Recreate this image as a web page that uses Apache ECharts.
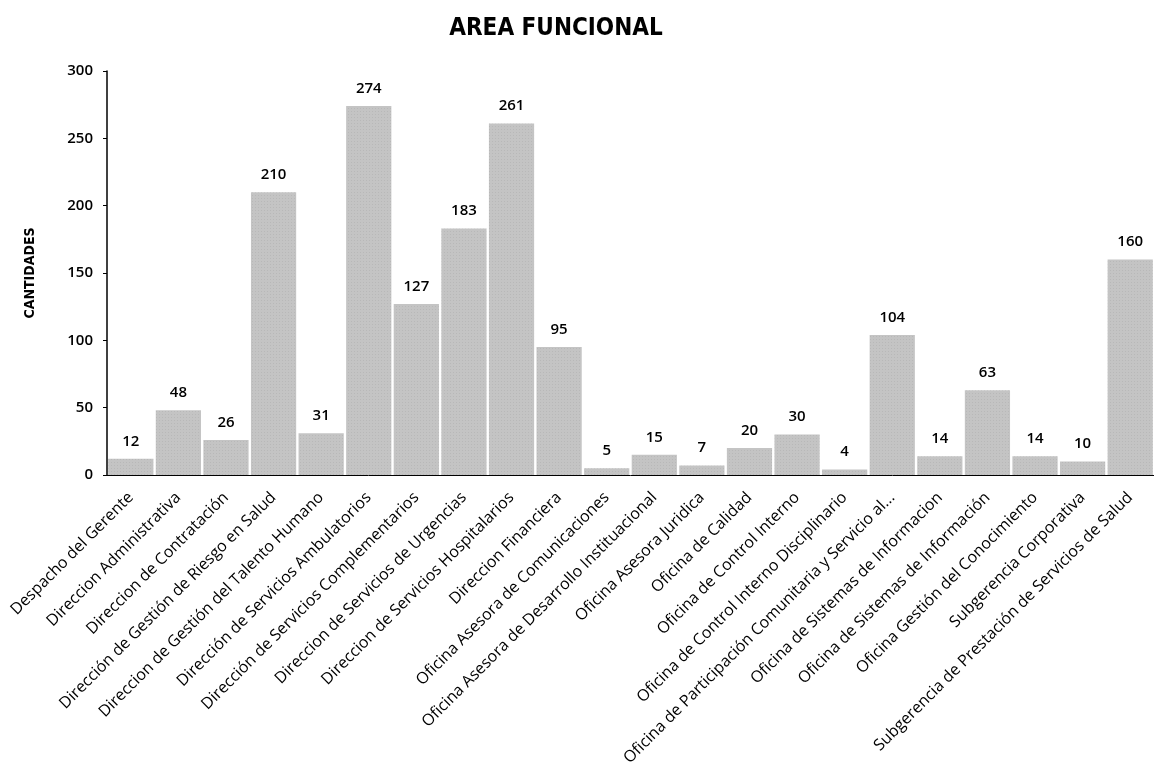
<!DOCTYPE html>
<html>
<head>
<meta charset="utf-8">
<script src="https://cdn.jsdelivr.net/npm/echarts@6/dist/echarts.min.js"></script>
<style>
html,body{margin:0;padding:0;background:#fff;}
#c{width:1154px;height:775px;}
</style>
</head>
<body>
<div id="c"></div>
<script>
const categories = [
  "Despacho del Gerente",
  "Direccion Administrativa",
  "Direccion de Contratación",
  "Dirección de Gestión de Riesgo en Salud",
  "Direccion de Gestión del Talento Humano",
  "Dirección de Servicios Ambulatorios",
  "Dirección de Servicios Complementarios",
  "Direccion de Servicios de Urgencias",
  "Direccion de Servicios Hospitalarios",
  "Direccion Financiera",
  "Oficina Asesora de Comunicaciones",
  "Oficina Asesora de Desarrollo Instituacional",
  "Oficina Asesora Juridica",
  "Oficina de Calidad",
  "Oficina de Control Interno",
  "Oficina de Control Interno Disciplinario",
  "Oficina de Participación Comunitaria y Servicio al...",
  "Oficina de Sistemas de Informacion",
  "Oficina de Sistemas de Información",
  "Oficina Gestión del Conocimiento",
  "Subgerencia Corporativa",
  "Subgerencia de Prestación de Servicios de Salud"
];
const cantidades = [12, 48, 26, 210, 31, 274, 127, 183, 261, 95, 5, 15, 7, 20, 30, 4, 104, 14, 63, 14, 10, 160];
const yTicks = { min: 0, max: 300, interval: 50 };

const chart = echarts.init(document.getElementById('c'));
const narrow = '"DejaVu Sans Condensed", "Liberation Sans Narrow", sans-serif';
const labelFont = '"Open Sans", "DejaVu Sans", sans-serif';
chart.setOption({
  animation: false,
  backgroundColor: '#fff',
  title: {
    text: 'AREA FUNCIONAL',
    left: 551, top: 12, textAlign: 'center',
    textStyle: { fontFamily: narrow, fontSize: 24, fontWeight: 'bold', color: '#000' }
  },
  grid: { left: 107, right: -7, top: 71, bottom: 300, containLabel: false },
  xAxis: {
    type: 'category',
    data: categories,
    axisLine: { lineStyle: { color: '#000', width: 1 } },
    axisTick: { show: false },
    axisLabel: {
      interval: 0, rotate: 45, margin: 20,
      fontFamily: labelFont, fontSize: 16, color: '#000'
    }
  },
  yAxis: {
    type: 'value',
    min: yTicks.min, max: yTicks.max, interval: yTicks.interval,
    name: 'CANTIDADES',
    nameLocation: 'middle',
    nameGap: 70,
    nameRotate: 90,
    nameTextStyle: { fontFamily: narrow, fontSize: 14, fontWeight: 'bold', color: '#000' },
    axisLine: { show: true, lineStyle: { color: '#000', width: 1.5 } },
    axisTick: { show: true, length: 4, lineStyle: { color: '#000' } },
    splitLine: { show: false },
    axisLabel: { fontFamily: labelFont, fontSize: 15, fontWeight: 600, color: '#000', margin: 14 }
  },
  series: [{
    type: 'bar',
    data: cantidades,
    barCategoryGap: '5%',
    itemStyle: {
      color: '#c4c4c4',
      decal: {
        symbol: 'rect', symbolSize: 0.5, dashArrayX: [1, 2], dashArrayY: [1, 2],
        color: 'rgba(60,60,60,0.35)', rotation: 0
      }
    },
    label: {
      show: true, position: 'top', distance: 10,
      fontFamily: labelFont, fontSize: 15, fontWeight: 600, color: '#000'
    }
  }]
});
</script>
</body>
</html>
